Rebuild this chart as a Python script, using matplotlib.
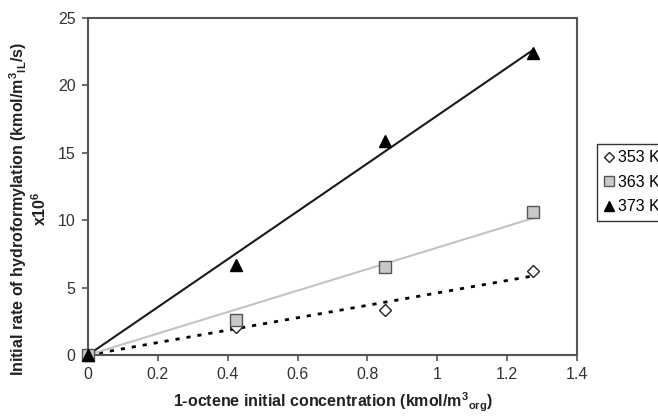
import numpy as np
import matplotlib.pyplot as plt

plt.rcParams['font.family'] = ['Liberation Sans', 'DejaVu Sans']
plt.rcParams['mathtext.default'] = 'regular'

conc = np.array([0, 0.425, 0.85, 1.275])
rate_353 = np.array([0, 2.1, 3.35, 6.2])
rate_363 = np.array([0, 2.6, 6.5, 10.6])
rate_373 = np.array([0, 6.7, 15.9, 22.4])
labels = ['353 K', '363 K', '373 K']


def slope_through_origin(x, y):
    return np.sum(x * y) / np.sum(x * x)


fig = plt.figure(figsize=(6.58, 4.17), dpi=100)
ax = fig.add_axes([0.1337, 0.1487, 0.7433, 0.8081])

xfit = np.array([0, conc[-1]])
# trend lines
ax.plot(xfit, slope_through_origin(conc, rate_353) * xfit, color='black',
        lw=2, ls=(0, (1.5, 2.5)), zorder=2)
ax.plot(xfit, slope_through_origin(conc, rate_363) * xfit, color='#c4c4c4',
        lw=1.5, zorder=2)
ax.plot(xfit, slope_through_origin(conc, rate_373) * xfit, color='#1a1a1a',
        lw=1.5, zorder=2)

# data points
h1, = ax.plot(conc, rate_353, ls='none', marker='D', ms=6, mfc='white',
              mec='#222222', mew=1, zorder=3, clip_on=False)
h2, = ax.plot(conc, rate_363, ls='none', marker='s', ms=9, mfc='#c8c8c8',
              mec='#555555', mew=1, zorder=3, clip_on=False)
h3, = ax.plot(conc, rate_373, ls='none', marker='^', ms=9, mfc='black',
              mec='black', zorder=4, clip_on=False)

ax.set_xlim(0, 1.4)
ax.set_ylim(0, 25)
ax.set_xticks(np.arange(0, 1.41, 0.2))
ax.set_xticklabels(['0', '0.2', '0.4', '0.6', '0.8', '1', '1.2', '1.4'])
ax.set_yticks([0, 5, 10, 15, 20, 25])

for s in ax.spines.values():
    s.set_color('#555555')
    s.set_linewidth(1.5)
ax.tick_params(direction='out', length=4, width=1.2, color='#555555',
               labelsize=11.5, labelcolor='#333333', pad=5)

ax.set_xlabel('1-octene initial concentration (kmol/m$^3$$_{org}$)',
              fontsize=11.5, fontweight='bold', color='#222222', labelpad=6)
fig.text(0.027, 0.5, 'Initial rate of hydroformylation (kmol/m$^3$$_{IL}$/s)',
         rotation=90, ha='center', va='center', fontsize=11.5,
         fontweight='bold', color='#222222')
fig.text(0.061, 0.5, 'x10$^6$', rotation=90, ha='center', va='center',
         fontsize=11.5, fontweight='bold', color='#222222')

leg = fig.legend([h1, h2, h3], labels, loc='upper left',
                 bbox_to_anchor=(0.907, 0.655), fontsize=11.5,
                 frameon=True, fancybox=False, handlelength=0.7,
                 handletextpad=0.2, borderpad=0.4, labelspacing=0.6,
                 borderaxespad=0, markerscale=0.85)
leg.get_frame().set_edgecolor('black')
leg.get_frame().set_linewidth(1)

fig.savefig('out.png', dpi=100)
